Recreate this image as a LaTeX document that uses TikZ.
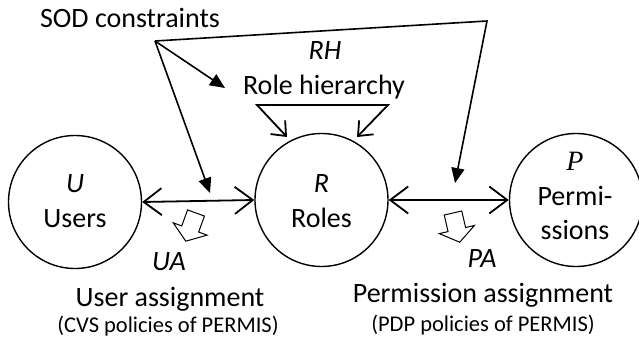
\documentclass[tikz,border=0pt]{standalone}
\usepackage{fontspec}
\setmainfont{Carlito}
\newfontfamily\serifit{Liberation Serif}
\usetikzlibrary{arrows.meta}
\begin{document}
\begin{tikzpicture}[x=1pt,y=-1pt,
  circ/.style={draw, circle, line width=1.4pt, minimum size=133pt, inner sep=0pt},
  txt/.style={font=\fontsize{28}{30}\selectfont, anchor=base, inner sep=0pt},
  small/.style={font=\fontsize{22.5}{25}\selectfont, anchor=base, inner sep=0pt},
  dbl/.style={line width=1.8pt, {Straight Barb[length=18pt,width=27pt,line width=1.8pt]}-{Straight Barb[length=18pt,width=27pt,line width=1.8pt]}},
  rhline/.style={line width=1.8pt, {Straight Barb[length=12pt,width=20pt,line width=1.8pt]}-{Straight Barb[length=12pt,width=20pt,line width=1.8pt]}, line join=miter},
  sod/.style={line width=1.6pt, -{Triangle[length=15pt,width=13pt]}},
  blockarrow/.style={line width=1pt, line join=miter, fill=white}
]
\useasboundingbox (0,0) rectangle (639,339);

% circles
\node[circ] (U) at (75,202) {};
\node[circ] (R) at (321.5,200) {};
\node[circ] (P) at (576,200) {};

% circle texts
\node[txt] (Ul) at (75,192) {\textit{U}};
\node[txt] (Ut) at (75,227) {Users};
\node[txt] (Rl) at (321.5,192) {\textit{R}};
\node[txt] (Rt) at (321.5,227) {Roles};
\node[txt] (Pl) at (575,171) {\serifit\itshape P};
\node[txt] (Pt1) at (575,205) {Permi-};
\node[txt] (Pt2) at (575,239) {ssions};

% double arrows
\draw[dbl] (U.east) -- (R.west);
\draw[dbl] (R.east) -- (P.west);

% role hierarchy
\node[txt] (RHl) at (325,60) {\textit{RH}};
\node[txt] (RHt) at (324,95) {Role hierarchy};
\coordinate (rh1) at (287,137);
\coordinate (rh2) at (257,105);
\coordinate (rh3) at (388,105);
\coordinate (rh4) at (357,137);
\draw[rhline] (rh1) -- (rh2) -- (rh3) -- (rh4);

% SOD constraints
\node[txt] (SOD) at (130,28) {SOD constraints};
\coordinate (sv) at (155,41);
\coordinate (sc) at (487,21);
\coordinate (tRH) at (225,88);
\coordinate (tUA) at (210,193);
\coordinate (tPA) at (455,183);
\draw[sod] (sv) -- (tRH);
\draw[sod] (sv) -- (tUA);
\draw[sod, line join=miter] (sv) -- (sc) -- (tPA);

% block arrows
\draw[blockarrow, shift={(196,213)}, rotate=-20]
  (-9,0) -- (9,0) -- (9,17) -- (18,17) -- (0,30) -- (-18,17) -- (-9,17) -- cycle;
\draw[blockarrow, shift={(453,213)}, rotate=13]
  (-9,0) -- (9,0) -- (9,17) -- (18,17) -- (0,30) -- (-18,17) -- (-9,17) -- cycle;

% assignment labels
\node[txt] (UA) at (169,270) {\textit{UA}};
\node[txt] (UAt) at (170,306) {User assignment};
\node[small] (UAp) at (168,332) {(CVS policies of PERMIS)};
\node[txt] (PA) at (482,267) {\textit{PA}};
\node[txt] (PAt) at (483,302) {Permission assignment};
\node[small] (PAp) at (483,331) {(PDP policies of PERMIS)};
\end{tikzpicture}
\end{document}
